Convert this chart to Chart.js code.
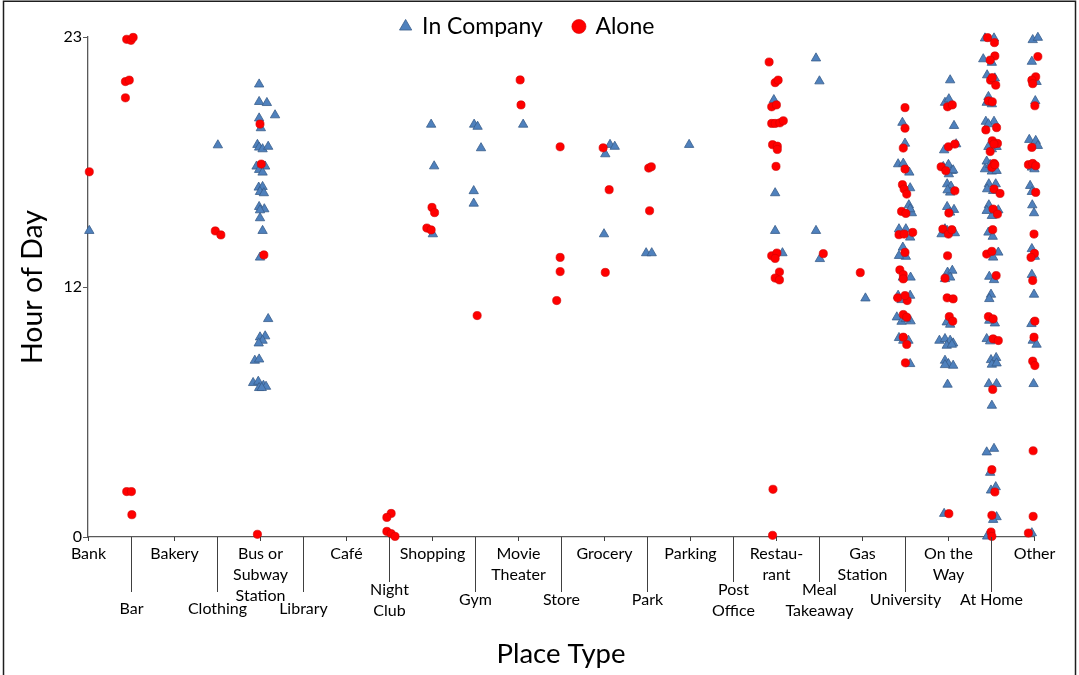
<!DOCTYPE html>
<html>
<head>
<meta charset="utf-8">
<title>Hour of Day by Place Type</title>
<script src="https://cdn.jsdelivr.net/npm/chart.js@4/dist/chart.umd.min.js"></script>
<style>
  html, body { margin: 0; padding: 0; background: #ffffff; }
  #wrap { position: relative; width: 1079px; height: 675px; }
</style>
</head>
<body>
<div id="wrap"><canvas id="chart"></canvas></div>
<script>
// Place categories along the x axis (index = x value)
const placeTypes = [
  'Bank', 'Bar', 'Bakery', 'Clothing', 'Bus or Subway Station', 'Library', 'Café',
  'Night Club', 'Shopping', 'Gym', 'Movie Theater', 'Store', 'Grocery', 'Park',
  'Parking', 'Post Office', 'Restaurant', 'Meal Takeaway', 'Gas Station',
  'University', 'On the Way', 'At Home', 'Other'
];

// How each category name is broken over lines under the axis
const placeLabelLines = [
  ['Bank'], ['Bar'], ['Bakery'], ['Clothing'], ['Bus or', 'Subway', 'Station'], ['Library'], ['Café'],
  ['Night', 'Club'], ['Shopping'], ['Gym'], ['Movie', 'Theater'], ['Store'], ['Grocery'], ['Park'],
  ['Parking'], ['Post', 'Office'], ['Restau-', 'rant'], ['Meal', 'Takeaway'], ['Gas', 'Station'],
  ['University'], ['On the', 'Way'], ['At Home'], ['Other']
];

// Hour-of-day axis ticks
const hourTickValues = [0, 12, 24];
const hourTickLabels = ['0', '12', '23'];

// Check-ins made together with other people: [place index (jittered), hour]
const inCompany = [
  [0.03, 14.70],
  [3.02, 18.81],
  [3.98, 21.73], [3.98, 20.89], [4.16, 20.84], [4.35, 20.25], [3.98, 20.10], [4.02, 19.63],
  [3.94, 18.83], [3.98, 18.70], [4.06, 18.62], [4.19, 18.74], [3.92, 17.79], [4.12, 17.79],
  [3.98, 17.63], [4.06, 17.50], [3.97, 16.78], [4.06, 16.81], [4.00, 16.57], [4.09, 16.51],
  [3.98, 15.85], [4.10, 15.74], [4.00, 15.69], [4.00, 15.31], [4.06, 14.70], [4.00, 13.42],
  [4.19, 10.47], [4.00, 9.59], [4.12, 9.64], [4.06, 9.43], [3.97, 9.30], [3.88, 8.47],
  [3.98, 8.53], [3.84, 7.40], [3.96, 7.46], [3.98, 7.16], [4.08, 7.27], [4.14, 7.22], [4.04, 7.16],
  [7.98, 19.80], [8.05, 17.80], [8.02, 14.54],
  [8.98, 19.80], [9.06, 19.70], [9.14, 18.67], [8.97, 16.61], [8.97, 16.01],
  [10.12, 19.80],
  [12.14, 18.83], [12.25, 18.74], [12.03, 18.38], [12.00, 14.54],
  [12.98, 13.63], [13.11, 13.63],
  [13.98, 18.83],
  [15.95, 20.98], [15.98, 16.51], [15.98, 14.70], [16.15, 13.63],
  [16.93, 22.98], [17.01, 21.88], [16.93, 14.70], [17.02, 13.35],
  [18.08, 11.46],
  [18.94, 19.89], [19.00, 18.89], [18.84, 17.90], [18.96, 17.93], [19.10, 17.50], [19.12, 16.75],
  [19.09, 15.93], [19.16, 15.55], [19.12, 15.74], [18.86, 14.78], [19.02, 14.78], [19.12, 14.38],
  [18.95, 13.90], [19.02, 13.46], [18.86, 13.50], [18.95, 12.46], [19.13, 12.46], [18.84, 11.59],
  [18.92, 11.38], [19.12, 11.59], [18.81, 10.55], [18.92, 10.34], [19.13, 10.36], [19.02, 10.47],
  [18.86, 9.56], [18.96, 9.43], [19.08, 9.43], [19.12, 8.31],
  [20.05, 21.93], [19.93, 20.85], [20.02, 21.02], [20.14, 19.74], [19.91, 18.57], [20.19, 18.86],
  [19.89, 17.77], [20.01, 17.87], [20.09, 17.58], [20.02, 17.42], [20.12, 17.61], [19.98, 16.94],
  [20.07, 16.83], [20.05, 16.54], [19.99, 16.65], [19.98, 15.85], [20.14, 15.71], [20.05, 15.58],
  [19.85, 14.54], [19.98, 14.70], [20.16, 14.59], [19.93, 14.78], [19.99, 12.70], [20.10, 12.79],
  [20.05, 12.46], [19.93, 12.39], [19.97, 10.31], [20.05, 10.20], [19.80, 9.43], [19.93, 9.51],
  [20.05, 9.43], [20.12, 9.30], [19.97, 9.19], [20.09, 9.24], [19.93, 8.47], [20.01, 8.31],
  [20.12, 8.23], [19.93, 8.26], [19.99, 7.32], [19.91, 1.12],
  [20.86, 23.94], [21.07, 23.94], [20.82, 22.94], [21.02, 22.77], [20.91, 22.17], [21.09, 22.02],
  [20.94, 21.13], [21.02, 20.78], [20.90, 20.85], [20.88, 19.94], [21.07, 19.94], [20.94, 19.82],
  [20.94, 18.73], [21.13, 18.73], [21.02, 18.62], [20.90, 18.03], [20.86, 17.66], [21.02, 17.55],
  [21.13, 17.58], [20.98, 17.87], [20.95, 16.94], [21.11, 16.94], [20.91, 16.70], [21.05, 16.62],
  [20.95, 15.93], [21.17, 15.69], [21.02, 15.42], [20.90, 15.66], [20.94, 14.62], [21.04, 14.42],
  [21.17, 13.66], [21.05, 13.42], [20.96, 12.50], [21.07, 12.34], [21.00, 11.64], [20.96, 11.43],
  [21.09, 10.26], [20.96, 10.39], [20.90, 9.51], [20.98, 9.40], [21.00, 8.50], [21.12, 8.60],
  [21.02, 8.28], [21.13, 8.34], [20.95, 7.35], [21.13, 7.35], [21.02, 6.31], [20.90, 4.07],
  [21.07, 4.24], [20.98, 3.09], [21.00, 2.24], [21.11, 2.40], [21.13, 0.96], [21.05, 0.83],
  [20.91, 0.03],
  [21.97, 23.86], [22.09, 23.97], [21.95, 22.82], [22.06, 21.85], [22.03, 20.93], [21.89, 19.07],
  [22.04, 19.02], [22.09, 18.78], [21.95, 17.74], [22.01, 17.66], [21.91, 16.86], [21.95, 16.57],
  [21.96, 15.93], [22.00, 15.55], [21.95, 13.83], [22.02, 13.46], [21.95, 12.59], [22.00, 11.64],
  [21.94, 10.23], [21.97, 9.43], [22.06, 9.24], [21.99, 7.35], [21.95, 0.19]
];

// Check-ins made alone: [place index (jittered), hour]
const alone = [
  [0.03, 17.53],
  [0.90, 23.89], [1.00, 23.84], [1.05, 23.98], [0.87, 21.86], [0.96, 21.93], [0.87, 21.08],
  [0.90, 2.18], [1.01, 2.18], [1.02, 1.07],
  [2.96, 14.69], [3.09, 14.50],
  [4.00, 19.82], [4.03, 17.90], [4.09, 13.54], [3.94, 0.13],
  [7.05, 1.13], [6.95, 0.94], [6.95, 0.27], [7.05, 0.16], [7.14, 0.03],
  [8.00, 15.82], [8.06, 15.57], [7.88, 14.83], [7.98, 14.74],
  [9.05, 10.63],
  [10.05, 21.94], [10.07, 20.74],
  [10.98, 18.73], [10.98, 13.42], [10.98, 12.74], [10.90, 11.35],
  [11.98, 18.68], [12.12, 16.67], [12.03, 12.70],
  [13.04, 17.71], [13.10, 17.77], [13.06, 15.66],
  [15.84, 22.80], [15.98, 21.81], [16.05, 21.93], [15.90, 20.65], [16.01, 20.74], [15.90, 19.85],
  [15.98, 19.85], [16.09, 19.88], [16.17, 19.98], [15.92, 18.83], [16.03, 18.76], [16.03, 18.60],
  [16.00, 17.79], [15.90, 13.50], [16.02, 13.63], [15.98, 13.37], [16.08, 12.72], [15.98, 12.43],
  [16.08, 12.34], [15.93, 2.29], [15.92, 0.08],
  [17.10, 13.60],
  [17.96, 12.69],
  [19.00, 20.61], [19.00, 19.62], [18.96, 18.67], [19.00, 17.66], [18.94, 16.91], [18.98, 16.70],
  [19.04, 16.46], [18.92, 15.63], [19.02, 15.53], [18.86, 14.51], [18.98, 14.54], [19.18, 14.62],
  [19.00, 13.66], [18.88, 12.82], [18.96, 12.59], [18.96, 12.39], [18.83, 11.48], [19.05, 11.35],
  [19.00, 11.59], [18.96, 10.68], [19.04, 10.55], [18.96, 9.59], [19.04, 9.24], [19.01, 8.36],
  [19.99, 20.65], [20.10, 20.74], [20.01, 18.73], [20.16, 18.86], [19.84, 17.77], [19.95, 17.58],
  [20.16, 16.62], [20.02, 15.55], [19.88, 14.78], [20.01, 14.54], [20.09, 14.75], [19.99, 13.50],
  [19.93, 12.42], [19.98, 11.48], [20.12, 11.43], [20.03, 10.58], [20.11, 10.36], [20.02, 1.12],
  [20.92, 23.97], [21.08, 23.73], [21.09, 23.09], [20.98, 22.89], [20.99, 21.93], [21.11, 21.69],
  [21.03, 22.05], [20.94, 20.93], [21.03, 20.89], [20.88, 19.54], [21.13, 19.65], [21.03, 19.02],
  [21.15, 18.89], [20.98, 18.50], [21.07, 18.86], [21.07, 17.93], [21.02, 17.74], [21.09, 17.87],
  [21.07, 16.70], [21.21, 16.49], [21.05, 15.74], [21.15, 15.50], [21.04, 14.75], [20.90, 13.58],
  [21.02, 13.71], [21.12, 12.55], [20.94, 10.58], [21.05, 10.47], [21.05, 9.51], [21.17, 9.43],
  [21.04, 7.08], [21.02, 3.23], [21.09, 2.16], [21.02, 1.04], [21.00, 0.24], [21.02, 0.03],
  [22.09, 23.06], [22.04, 22.09], [21.95, 21.93], [21.97, 21.76], [22.02, 20.70], [21.95, 18.70],
  [21.87, 17.87], [21.97, 17.93], [22.04, 17.82], [22.04, 16.54], [22.00, 14.54], [22.01, 13.61],
  [21.93, 13.42], [21.97, 12.31], [22.02, 10.36], [22.00, 9.59], [21.97, 8.44], [22.02, 8.23],
  [21.98, 4.14], [21.98, 0.99], [21.87, 0.19]
];

const FONT = 'Lato, "Open Sans", sans-serif';
const AXIS_COLOR = '#595959';

const toPoints = pairs => pairs.map(([x, y]) => ({ x, y }));

// Remove the legend's extra bottom gap so the plot starts right below it
const tightLegend = {
  id: 'tightLegend',
  beforeLayout(chart) {
    const lg = chart.legend;
    if (lg && !lg._tightFit) {
      const fit = lg.fit;
      lg.fit = function () { fit.call(this); this.height -= 11; };
      lg._tightFit = true;
    }
  }
};

// White page with a thin frame on the top, left and right
const pageFrame = {
  id: 'pageFrame',
  beforeDraw(chart) {
    const { ctx, width, height } = chart;
    ctx.save();
    ctx.fillStyle = '#ffffff';
    ctx.fillRect(0, 0, width, height);
    ctx.restore();
  },
  afterDraw(chart) {
    const { ctx, width, height } = chart;
    ctx.save();
    ctx.strokeStyle = '#1e1e1e';
    ctx.lineWidth = 1.5;
    ctx.beginPath();
    ctx.moveTo(3.5, height);
    ctx.lineTo(3.5, 1.25);
    ctx.lineTo(width - 3.5, 1.25);
    ctx.lineTo(width - 3.5, height);
    ctx.stroke();
    ctx.restore();
  }
};

// Category labels under the x axis, staggered in two rows;
// the lower row hangs from long tick lines
const lowerRowExtraDrop = { 1: 9, 3: 9, 5: 9 };
const placeAxisLabels = {
  id: 'placeAxisLabels',
  afterDraw(chart) {
    const { ctx } = chart;
    const x = chart.scales.x;
    const base = x.top;
    ctx.save();
    ctx.font = '16px ' + FONT;
    ctx.fillStyle = '#000000';
    ctx.textAlign = 'center';
    ctx.textBaseline = 'middle';
    ctx.strokeStyle = '#404040';
    ctx.lineWidth = 1;
    placeLabelLines.forEach((lines, i) => {
      const px = Math.round(x.getPixelForValue(i)) + 0.5;
      let firstLine, tickEnd;
      if (i % 2 === 0) {
        firstLine = base + 17;
        tickEnd = base + 4;
      } else if (lines.length > 1) {
        firstLine = base + 53;
        tickEnd = base + 45;
      } else {
        firstLine = base + 63 + (lowerRowExtraDrop[i] || 0);
        tickEnd = base + 55;
      }
      ctx.beginPath();
      ctx.moveTo(px, base);
      ctx.lineTo(px, tickEnd);
      ctx.stroke();
      lines.forEach((t, k) => ctx.fillText(t, px, firstLine + k * 21));
    });
    ctx.restore();
  }
};

new Chart(document.getElementById('chart'), {
  type: 'scatter',
  data: {
    datasets: [
      {
        label: 'In Company',
        data: toPoints(inCompany),
        pointStyle: 'triangle',
        pointRadius: 5.4,
        pointHoverRadius: 5.4,
        backgroundColor: '#4F81BD',
        borderColor: '#385D8A',
        borderWidth: 0.8,
        clip: false,
        order: 1
      },
      {
        label: 'Alone',
        data: toPoints(alone),
        pointStyle: 'circle',
        pointRadius: 4.1,
        pointHoverRadius: 4.1,
        backgroundColor: '#FF0000',
        borderColor: '#D00000',
        borderWidth: 0.6,
        clip: false,
        order: 0
      }
    ]
  },
  options: {
    responsive: true,
    maintainAspectRatio: false,
    animation: false,
    events: [],
    layout: { padding: { top: -16, left: 21, right: 45, bottom: 0 } },
    plugins: {
      tooltip: { enabled: false },
      legend: {
        display: true,
        position: 'top',
        align: 'center',
        labels: {
          usePointStyle: true,
          boxWidth: 10,
          boxHeight: 10,
          padding: 31,
          color: '#000000',
          font: { family: FONT, size: 23 },
          sort: (a, b) => a.datasetIndex - b.datasetIndex
        }
      }
    },
    scales: {
      x: {
        type: 'linear',
        position: 'bottom',
        min: 0,
        max: placeTypes.length - 1,
        grid: { display: false },
        border: { display: true, color: AXIS_COLOR, width: 1.3 },
        ticks: { display: false },
        title: {
          display: true,
          text: 'Place Type',
          color: '#000000',
          font: { family: FONT, size: 27.5, lineHeight: 1.2 },
          padding: { top: 0, bottom: 4.5 }
        },
        afterFit(scale) { scale.height = 138; }
      },
      y: {
        type: 'linear',
        position: 'left',
        min: 0,
        max: 24,
        afterBuildTicks(scale) {
          scale.ticks = hourTickValues.map(v => ({ value: v }));
        },
        ticks: {
          padding: 1,
          color: '#000000',
          font: { family: FONT, size: 16 },
          callback: (value, index) => hourTickLabels[index]
        },
        grid: {
          drawOnChartArea: false,
          drawTicks: true,
          tickLength: 5,
          color: AXIS_COLOR
        },
        border: { display: true, color: AXIS_COLOR, width: 1.3 },
        title: {
          display: true,
          text: 'Hour of Day',
          color: '#000000',
          font: { family: FONT, size: 28.5, lineHeight: 1.2 },
          padding: { top: -5, bottom: 0 }
        },
        afterFit(scale) { scale.width = 67; }
      }
    }
  },
  plugins: [tightLegend, pageFrame, placeAxisLabels]
});
</script>
</body>
</html>
